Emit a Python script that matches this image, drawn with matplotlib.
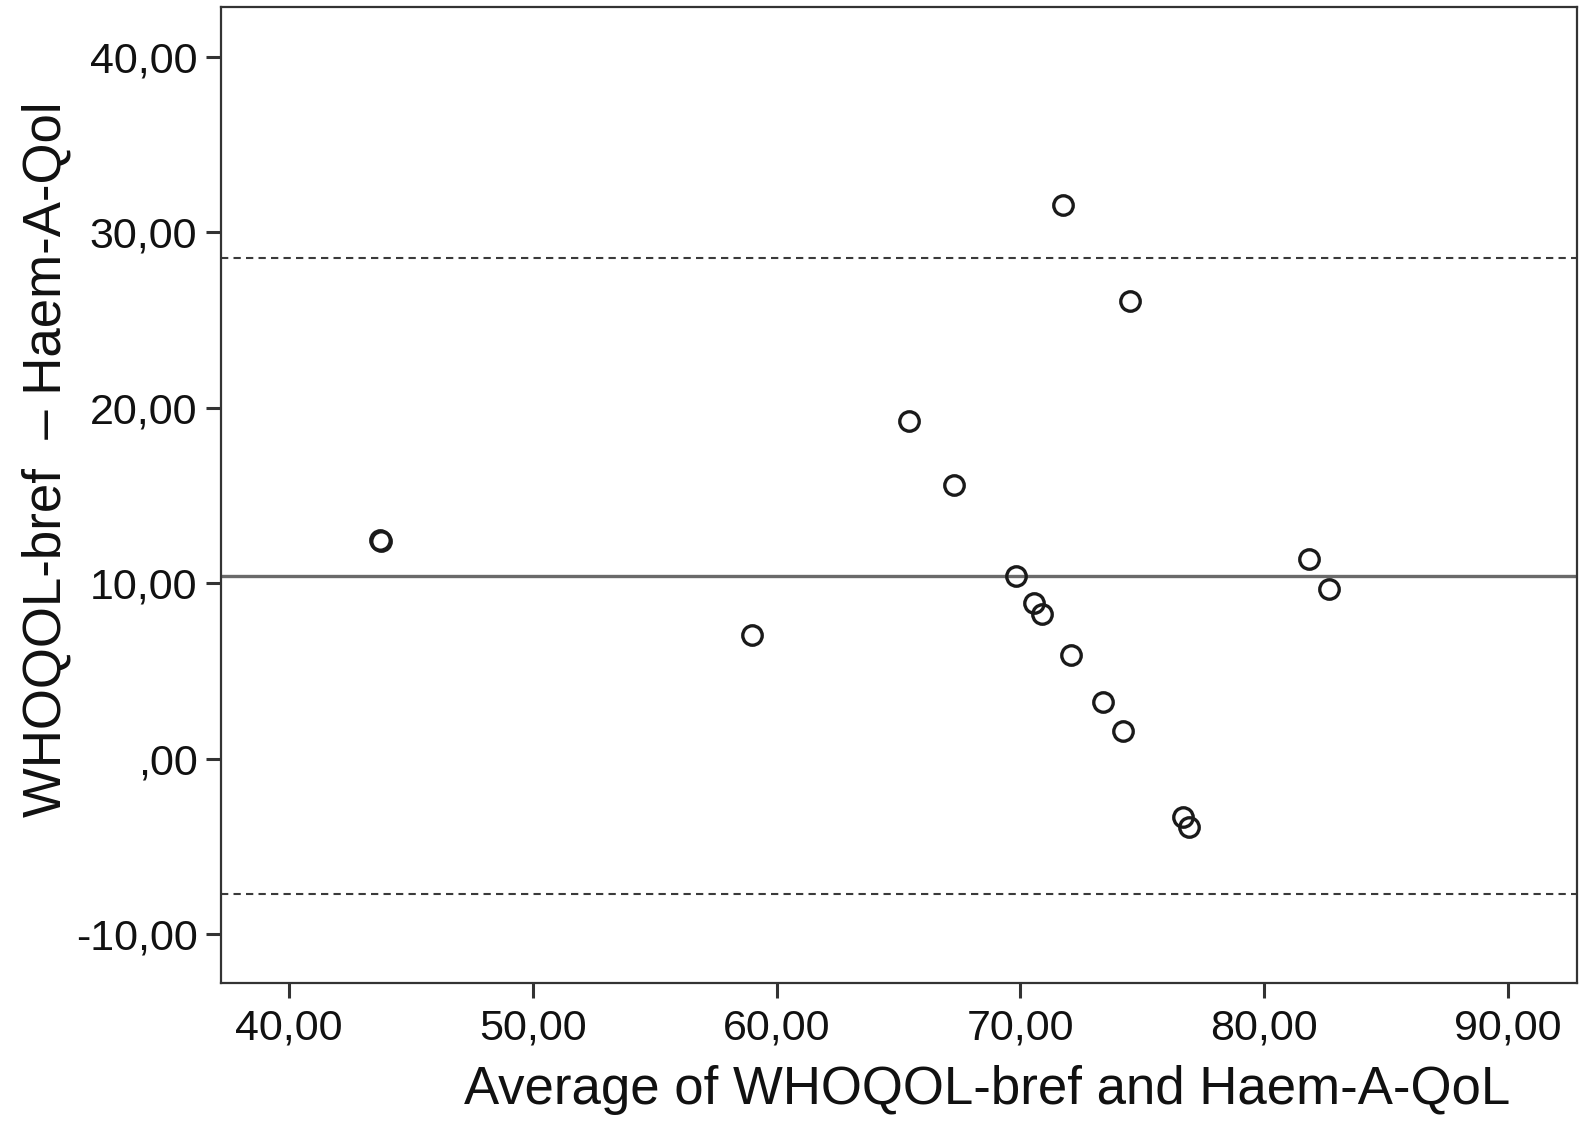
import matplotlib
matplotlib.use('Agg')
import matplotlib.pyplot as plt

# Bland-Altman data: average of the two scores vs. their difference
avg_score = [43.77, 43.75, 58.99, 65.43, 67.28, 69.82, 70.56, 70.89, 72.08,
             73.39, 74.21, 76.67, 76.92, 71.75, 74.50, 81.84, 82.66]
diff_score = [12.43, 12.45, 7.07, 19.22, 15.57, 10.43, 8.89, 8.26, 5.92,
              3.24, 1.59, -3.32, -3.89, 31.55, 26.07, 11.40, 9.69]

# mean difference and limits of agreement
mean_diff = 10.4
upper_loa = 28.53
lower_loa = -7.72

x_ticks = [40, 50, 60, 70, 80, 90]
x_tick_labels = ['40,00', '50,00', '60,00', '70,00', '80,00', '90,00']
y_ticks = [-10, 0, 10, 20, 30, 40]
y_tick_labels = ['-10,00', ',00', '10,00', '20,00', '30,00', '40,00']

plt.rcParams['font.family'] = ['Liberation Sans', 'DejaVu Sans']

fig = plt.figure(figsize=(15.83, 11.28), dpi=100)
ax = fig.add_axes([0.1396, 0.1285, 0.8566, 0.8653])

ax.axhline(mean_diff, color='#6a6a6a', lw=2.4, zorder=1)
ax.axhline(upper_loa, color='#3a3a3a', lw=1.5, ls=(0, (3.5, 2.5)), zorder=1)
ax.axhline(lower_loa, color='#3a3a3a', lw=1.5, ls=(0, (3.5, 2.5)), zorder=1)

ax.plot(avg_score, diff_score, 'o', ms=14, mfc='none', mec='#1a1a1a', mew=2.4, zorder=3)

ax.set_xlim(37.21, 92.83)
ax.set_ylim(-12.80, 42.85)

ax.set_xticks(x_ticks)
ax.set_xticklabels(x_tick_labels)
ax.set_yticks(y_ticks)
ax.set_yticklabels(y_tick_labels)
ax.tick_params(axis='both', direction='out', length=11, width=2.2, color='#333333',
               labelsize=31, labelcolor='#111111')
ax.tick_params(axis='x', pad=7)
ax.tick_params(axis='y', pad=6)

for s in ax.spines.values():
    s.set_linewidth(1.6)
    s.set_color('#333333')

# axis titles placed like the original figure
fig.text(987 / 1583, 1 - 1090 / 1128, 'Average of WHOQOL-bref and Haem-A-QoL',
         ha='center', va='center', fontsize=38, color='#111111')
fig.text(47 / 1583, 1 - 459 / 1128, 'WHOQOL-bref  \u2013 Haem-A-Qol',
         ha='center', va='center', rotation=90, fontsize=38, color='#111111')

fig.savefig('out.png', dpi=100)
